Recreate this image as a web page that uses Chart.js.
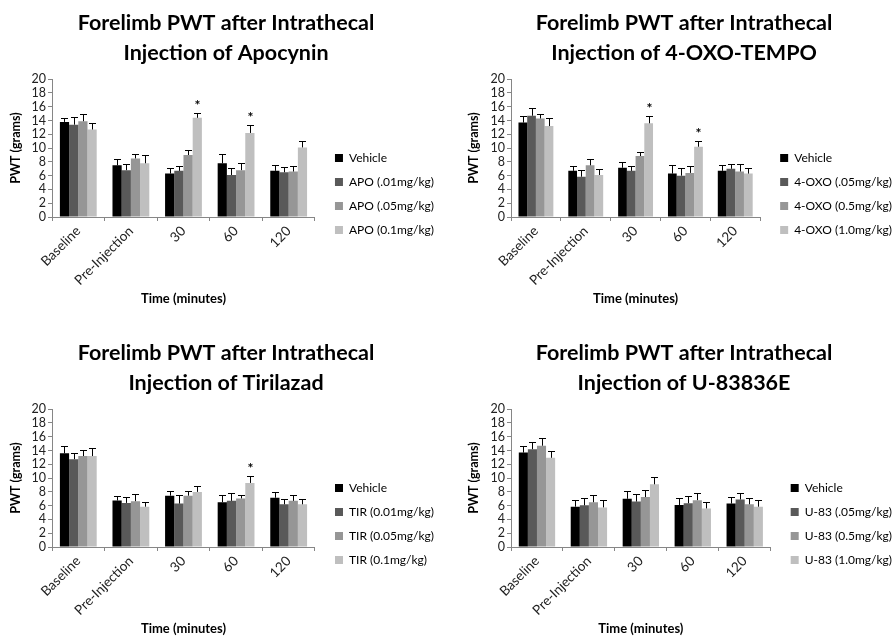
<!DOCTYPE html>
<html lang="en">
<head>
<meta charset="UTF-8">
<title>Forelimb PWT after Intrathecal Injection</title>
<script src="https://cdn.jsdelivr.net/npm/chart.js"></script>
<style>
  body { margin: 0; background: #fff; }
  .panel { position: absolute; width: 446px; height: 309px; }
</style>
</head>
<body>
<div class="panel" style="left:0;top:0"><canvas id="apo" width="446" height="309"></canvas></div>
<div class="panel" style="left:446px;top:0"><canvas id="oxo" width="446" height="309"></canvas></div>
<div class="panel" style="left:0;top:330px"><canvas id="tir" width="446" height="309"></canvas></div>
<div class="panel" style="left:446px;top:330px"><canvas id="u83" width="446" height="309"></canvas></div>

<script>
// time points on the x axis
const timeLabels = ['Baseline', 'Pre-Injection', '30', '60', '120'];
const barColors = ['#000000', '#595959', '#969696', '#bfbfbf'];

// Apocynin
const apoNames = ['Vehicle', 'APO (.01mg/kg)', 'APO (.05mg/kg)', 'APO (0.1mg/kg)'];
const apoMean = [
  [13.8, 7.5, 6.3, 7.8, 6.7],
  [13.4, 6.8, 6.7, 6.1, 6.5],
  [13.9, 8.5, 9.0, 6.8, 6.6],
  [12.7, 7.8, 14.4, 12.2, 10.1]
];
const apoSem = [
  [0.5, 0.95, 0.75, 1.4, 0.9],
  [1.1, 0.9, 0.75, 1.05, 0.8],
  [1.0, 0.7, 0.7, 1.05, 0.8],
  [0.9, 1.2, 0.65, 1.1, 0.9]
];
const apoStars = [2, 3];

// 4-OXO-TEMPO
const oxoNames = ['Vehicle', '4-OXO (.05mg/kg)', '4-OXO (0.5mg/kg)', '4-OXO (1.0mg/kg)'];
const oxoMean = [
  [13.7, 6.7, 7.15, 6.3, 6.7],
  [14.7, 5.85, 6.7, 6.0, 7.0],
  [14.3, 7.5, 8.85, 6.4, 6.6],
  [13.2, 6.1, 13.6, 10.2, 6.3]
];
const oxoSem = [
  [1.0, 0.75, 0.8, 1.2, 0.8],
  [1.15, 0.95, 0.7, 1.15, 0.7],
  [0.7, 0.85, 0.55, 0.95, 1.05],
  [1.1, 0.85, 1.1, 0.85, 0.85]
];
const oxoStars = [2, 3];

// Tirilazad
const tirNames = ['Vehicle', 'TIR (0.01mg/kg)', 'TIR (0.05mg/kg)', 'TIR (0.1mg/kg)'];
const tirMean = [
  [13.6, 6.75, 7.45, 6.5, 7.15],
  [12.75, 6.4, 6.3, 6.7, 6.2],
  [13.2, 6.65, 7.45, 7.05, 6.7],
  [13.2, 5.85, 8.0, 9.3, 6.2]
];
const tirSem = [
  [1.1, 0.6, 0.7, 1.1, 0.9],
  [0.95, 0.8, 1.25, 1.1, 0.7],
  [0.95, 1.05, 0.65, 0.55, 0.9],
  [1.2, 0.65, 0.8, 1.0, 0.7]
];
const tirStars = [3];

// U-83836E
const u83Names = ['Vehicle', 'U-83 (.05mg/kg)', 'U-83 (0.5mg/kg)', 'U-83 (1.0mg/kg)'];
const u83Mean = [
  [13.7, 5.85, 7.0, 6.1, 6.3],
  [14.2, 6.05, 6.6, 6.35, 6.9],
  [14.7, 6.5, 7.25, 6.8, 6.2],
  [12.95, 5.75, 9.1, 5.6, 5.85]
];
const u83Sem = [
  [1.0, 1.0, 1.1, 1.0, 1.0],
  [1.1, 1.0, 1.05, 1.05, 1.0],
  [1.1, 1.1, 1.0, 1.05, 0.85],
  [1.05, 1.0, 1.0, 1.0, 0.95]
];
const u83Stars = [];

Chart.defaults.font.family = 'Lato, "Open Sans", sans-serif';
Chart.defaults.color = '#000';

// upper error bars + significance stars
const errorBars = {
  id: 'errorBars',
  afterDatasetsDraw(chart, args, opts) {
    const ctx = chart.ctx;
    const y = chart.scales.y;
    ctx.save();
    ctx.strokeStyle = '#000';
    ctx.fillStyle = '#000';
    ctx.lineWidth = 1;
    ctx.font = 'bold 14px Lato';
    ctx.textAlign = 'center';
    ctx.textBaseline = 'bottom';
    chart.data.datasets.forEach((ds, i) => {
      chart.getDatasetMeta(i).data.forEach((bar, j) => {
        const top = Math.round(y.getPixelForValue(ds.data[j] + ds.sem[j])) + 0.5;
        const x = Math.round(bar.x) + 0.5;
        ctx.beginPath();
        ctx.moveTo(x, bar.y);
        ctx.lineTo(x, top);
        ctx.moveTo(x - 3.5, top);
        ctx.lineTo(x + 3.5, top);
        ctx.stroke();
        if (i === 3 && opts.stars.includes(j)) {
          ctx.fillText('*', x, top - 1);
        }
      });
    });
    ctx.restore();
  }
};

function makePanel(id, drug, names, means, sems, stars, padLeft, yWidth, padRight) {
  const datasets = names.map((n, i) => ({
    label: n,
    data: means[i],
    sem: sems[i],
    backgroundColor: barColors[i],
    categoryPercentage: 0.7,
    barPercentage: 1.0
  }));
  return new Chart(document.getElementById(id), {
    type: 'bar',
    data: { labels: timeLabels, datasets: datasets },
    plugins: [errorBars],
    options: {
      responsive: false,
      animation: false,
      layout: { padding: { left: padLeft, right: padRight, top: 0, bottom: 2 } },
      scales: {
        x: {
          grid: { display: true, drawOnChartArea: false, offset: true, tickLength: 4, color: '#868686' },
          border: { color: '#868686' },
          ticks: { minRotation: 45, maxRotation: 45, font: { size: 13.5 }, color: '#222', padding: 2 },
          title: { display: true, text: 'Time (minutes)', font: { size: 13, weight: 'bold' }, padding: 0 },
          afterFit: s => { s.height = 90; }
        },
        y: {
          min: 0, max: 20,
          grid: { display: true, drawOnChartArea: false, tickLength: 4, color: '#868686' },
          border: { color: '#868686' },
          ticks: { stepSize: 2, autoSkip: false, font: { size: 12.5 }, color: '#222', padding: 2 },
          title: { display: true, text: 'PWT (grams)', font: { size: 12.5, weight: 'bold' }, padding: 0 },
          afterFit: s => { s.width = yWidth; }
        },
        // empty spacer between plot and legend
        gap: {
          type: 'linear', position: 'right', display: true,
          grid: { display: false }, border: { display: false }, ticks: { display: false },
          afterFit: s => { s.width = 8; }
        }
      },
      plugins: {
        title: {
          display: true,
          text: ['Forelimb PWT after Intrathecal', 'Injection of ' + drug],
          font: { size: 21.5, weight: 'bold', lineHeight: 1.4 },
          color: '#000',
          padding: { top: 8, bottom: 11 }
        },
        legend: {
          position: 'right',
          maxWidth: 200,
          // blank title only pushes the items down
          title: { display: true, text: ' ', font: { size: 1, lineHeight: 1 }, padding: { top: 40, bottom: 40 } },
          labels: { boxWidth: 8, boxHeight: 8, padding: 12, font: { size: 12 }, color: '#000' }
        },
        tooltip: { enabled: false },
        errorBars: { stars: stars }
      }
    }
  });
}

makePanel('apo', 'Apocynin', apoNames, apoMean, apoSem, apoStars, 8, 44, 2);
makePanel('oxo', '4-OXO-TEMPO', oxoNames, oxoMean, oxoSem, oxoStars, 20, 45, -10);
makePanel('tir', 'Tirilazad', tirNames, tirMean, tirSem, tirStars, 8, 44, 2);
makePanel('u83', 'U-83836E', u83Names, u83Mean, u83Sem, u83Stars, 20, 45, -10);
</script>
</body>
</html>
